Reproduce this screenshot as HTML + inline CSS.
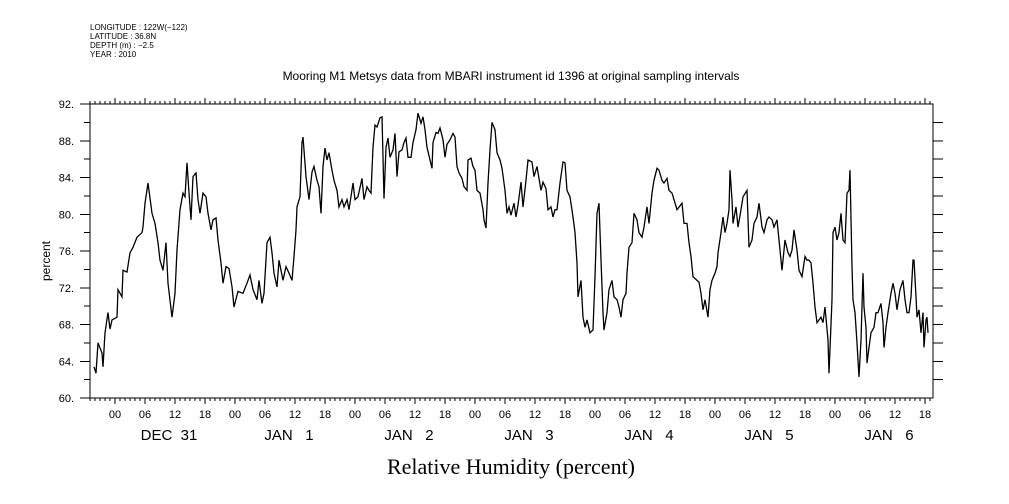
<!DOCTYPE html>
<html><head><meta charset="utf-8"><style>
html,body{margin:0;padding:0;background:#fff;}
svg{display:block;font-family:"Liberation Sans",sans-serif;}
</style></head><body>
<svg id="chart" width="1009" height="504" viewBox="0 0 1009 504" xmlns="http://www.w3.org/2000/svg">
<g font-size="8" fill="#000">
<text x="90" y="30">LONGITUDE : 122W(−122)</text>
<text x="90" y="39">LATITUDE : 36.8N</text>
<text x="90" y="48">DEPTH (m) : −2.5</text>
<text x="90" y="57">YEAR : 2010</text>
</g>
<text x="511" y="80" text-anchor="middle" font-size="12">Mooring M1 Metsys data from MBARI instrument id 1396 at original sampling intervals</text>
<text x="0" y="0" transform="translate(50,261) rotate(-90)" text-anchor="middle" font-size="12">percent</text>
<text x="511" y="474" text-anchor="middle" font-size="22" font-family="Liberation Serif, serif">Relative Humidity (percent)</text>
<g id="axes"></g>
<g id="series"></g>
</svg>
<script>
// hours since Dec 31 00:00
const hours = [-4.2,-3.8,-3.4,-2.6,-2.4,-2.0,-1.4,-1.0,-0.6,0.4,0.6,1.4,1.6,2.4,3.0,3.6,4.4,5.4,5.6,6.0,6.6,7.4,8.0,8.6,9.0,9.6,10.2,10.6,11.4,12.0,12.4,13.0,13.6,14.0,14.4,14.8,15.2,15.6,16.2,16.6,17.0,17.6,18.2,18.6,19.2,19.6,20.2,20.6,21.2,21.6,22.2,22.8,23.4,23.8,24.6,25.6,26.4,27.0,27.6,28.4,28.8,29.4,29.8,30.4,31.0,31.4,31.8,32.4,32.8,33.6,34.2,34.8,35.4,35.8,36.2,36.4,37.0,37.4,37.6,38.2,38.8,39.4,39.8,40.4,40.8,41.2,41.6,42.0,42.4,42.8,43.4,43.8,44.4,44.8,45.4,45.8,46.4,46.8,47.6,48.0,48.6,49.4,49.8,50.4,50.8,51.2,51.6,52.0,52.4,53.0,53.4,53.6,53.8,54.2,54.6,55.0,55.6,56.0,56.4,56.8,57.4,57.8,58.2,58.6,59.2,59.6,60.2,60.6,61.2,61.6,62.0,62.4,63.0,63.4,63.6,64.2,64.6,65.0,65.6,66.0,66.4,67.0,67.6,68.0,68.4,68.8,69.4,69.8,70.4,70.6,71.2,71.6,72.0,72.4,73.0,73.6,73.8,74.2,74.6,75.0,75.4,76.0,76.4,77.0,77.4,78.0,78.4,78.8,79.2,79.8,80.2,80.6,81.2,81.6,82.2,82.6,83.4,83.8,84.4,85.2,85.6,86.2,86.6,87.2,87.6,88.0,88.4,89.0,89.6,90.0,90.4,91.0,91.6,92.0,92.4,92.6,93.2,93.6,94.0,94.4,95.0,95.6,96.0,96.4,96.8,97.2,97.6,97.8,98.4,98.8,99.4,99.8,100.4,100.8,101.2,101.6,102.2,102.4,102.8,103.4,103.8,104.4,104.8,105.4,105.8,106.4,106.8,107.4,107.8,108.4,108.8,109.4,109.8,110.4,110.8,111.4,111.8,112.4,113.4,113.8,114.4,114.8,115.2,115.6,116.4,116.8,117.2,117.6,118.0,118.6,119.0,119.4,120.0,120.4,120.6,121.2,121.6,122.0,122.4,122.8,123.0,123.4,123.6,124.2,124.6,125.2,125.6,126.4,126.8,127.4,127.8,128.4,128.8,129.4,129.8,130.4,130.8,131.4,131.8,132.4,132.6,133.0,133.4,134.0,134.6,135.0,135.4,135.8,136.4,136.8,137.4,138.0,138.4,138.8,139.2,139.6,140.0,140.4,141.2,141.6,142.0,142.6,142.8,143.4,143.6,144.0,144.4,144.8,145.2,145.6,146.0,146.4,146.8,147.0,147.4,147.6,148.0,148.4,148.8,149.2,149.6,149.8,150.2,150.4,151.0,151.2,151.8,152.2,152.6,153.2,153.6,153.8,154.2,154.6,155.2,155.6,156.0,156.4,157.0,157.6,158.0,158.4,158.8,159.2,159.6,159.8,160.2,160.4,160.8,161.2,161.6,161.8,162.2,162.4,162.6];
const humidity = [63.4,62.7,66,64.9,63.4,67.1,69.3,67.5,68.5,68.8,71.8,71,73.9,73.7,75.8,76.4,77.5,78,78.6,81.2,83.4,80.1,79,76.9,75,73.9,76.9,72.5,68.8,71.4,76.1,80.5,82.3,81.9,85.6,82.3,79.4,84.1,84.5,81.6,80.1,82.3,81.9,80.1,78.3,79.4,79.6,77.2,74.7,72.5,74.3,74.1,72.1,69.9,71.6,71.4,72.5,73.4,71.8,70.7,72.8,70.3,71.4,76.9,77.5,75.8,73.6,72.1,75,72.8,74.3,73.6,72.8,75.4,78.3,80.8,81.9,87.8,88.4,84.1,81.6,84.6,85.2,83.7,83,80.1,85.2,87.2,85.9,86.7,84.8,83.7,82.6,80.8,81.6,80.8,81.6,80.5,83.4,81.6,81.9,83.9,81.6,83,82.6,82.3,87.3,89.7,89.5,90.5,90.6,86.2,81.7,87.3,88.3,86.2,87,88.8,84.1,86.8,87,87.8,88.3,86.2,86.2,87.8,89.2,91,89.9,90.6,89.2,87.3,85.9,85,87.8,88.9,88.8,89.4,88.1,86.2,87.6,88.1,88.8,88.4,85.2,84.5,83.9,83,82.6,85.9,86.1,85.2,84.8,82.6,82.3,80.5,79.4,78.5,83.4,87,90,89.2,86.7,85.9,85,82.6,80.1,80.8,79.9,81.2,79.7,81,83.5,80.8,83.7,85.9,85.7,84.1,85.2,82.6,83.5,82.8,80.5,80.8,79.7,80.5,80.5,83.4,85.7,85.6,82.6,81.9,79.7,78,74.7,71,72.8,68.8,67.7,68.5,67.1,67.4,73.2,80.1,81.2,75,69.3,67.4,69.3,71.8,72.8,71,70.7,69.9,68.8,70.7,71.4,73.6,76.4,76.9,80.1,79.4,78,77.5,78.6,80.8,79,82.3,83.7,85,84.8,83.7,83.4,83.9,82.6,82.3,81.6,80.5,81.2,79,79,76.9,75.4,73.2,72.8,72.6,71.4,69.6,70.7,68.8,71.8,72.8,73.6,74.3,75.8,78,79.7,78,79,80.5,84.8,81.6,79,80.8,78.6,80.5,81.9,82.6,76.4,77.2,79,79.7,81.2,78.6,78,79.4,79.7,79.4,78.6,79.4,78.3,76.1,73.9,77.2,75.8,75.4,76.1,78.3,76.1,73.9,73.2,75.4,75,75,74.7,72.5,69.9,68.2,68.8,68.2,69.9,66.3,62.7,70.7,78,78.6,77.2,78,80.1,77.2,76.9,82.3,82.6,84.8,74.3,70.7,69.3,66,62.3,66.3,73.6,69.9,67.7,63.8,66.3,67.1,67.7,69.3,69.3,70.3,68.2,65.5,67.7,69.3,71.4,72.5,71.4,69.6,71.8,72.8,70.7,69.3,69.3,71,75,75,71,68.8,69.6,67.1,69.3,65.5,68.5,68.8,67.1,66.3];
const hourTickLabels = ["00","06","12","18"];
const dayLabels = ["DEC  31","JAN   1","JAN   2","JAN   3","JAN   4","JAN   5","JAN   6"];
const yTickValues = [60,64,68,72,76,80,84,88,92];
const yTickLabels = ["60.","64.","68.","72.","76.","80.","84.","88.","92."];

const NS = "http://www.w3.org/2000/svg";
const L = 90, R = 933, T = 104, B = 398;
const hMin = -5, hMax = 163.6, yMin = 60, yMax = 92;
const xs = h => L + (h - hMin) / (hMax - hMin) * (R - L);
const ys = v => B - (v - yMin) / (yMax - yMin) * (B - T);
const axes = document.getElementById('axes');
const series = document.getElementById('series');

function mk(tag, attrs, parent) {
  const e = document.createElementNS(NS, tag);
  for (const k in attrs) e.setAttribute(k, attrs[k]);
  parent.appendChild(e);
  return e;
}
function line(x1, y1, x2, y2, name) {
  const e = mk('line', {x1: x1, y1: y1, x2: x2, y2: y2, stroke: '#000', 'stroke-width': 1, 'shape-rendering': 'crispEdges'}, axes);
  
  
  return e;
}
const frame = mk('rect', {x: L, y: T, width: R - L, height: B - T, fill: 'none', stroke: '#000', 'stroke-width': 1, 'shape-rendering': 'crispEdges'}, axes);



// y ticks
for (let v = yMin; v <= yMax; v += 2) {
  const y = ys(v);
  const major = (v % 4 === 0);
  line(major ? L - 10 : L - 6, y, L, y, 'y-tick');
  if (v > yMin && v < yMax) line(R, y, R + 10, y, 'y-tick-right');
}
yTickValues.forEach((v, i) => {
  const t = mk('text', {x: 74, y: ys(v) + 4, 'text-anchor': 'end', 'font-size': 11}, axes);
  t.textContent = yTickLabels[i];
  
  
});

// x ticks
for (let h = Math.ceil(hMin); h <= hMax; h++) {
  const x = xs(h);
  const six = ((h % 6) + 6) % 6 === 0;
  line(x, B, x, B + (six ? 6 : 3), 'x-tick');
  line(x, T, x, T - (six ? 6 : 3), 'x-tick-top');
  if (six) {
    const t = mk('text', {x: x, y: 418, 'text-anchor': 'middle', 'font-size': 11}, axes);
    t.textContent = hourTickLabels[((h / 6) % 4 + 4) % 4];
    
    
  }
}
dayLabels.forEach((d, i) => {
  const t = mk('text', {x: xs(i * 24 + 12) - 6, y: 440, 'text-anchor': 'middle', 'font-size': 15, style: 'white-space:pre'}, axes);
  t.textContent = d;
  
  
});

// series
const pts = hours.map((h, i) => xs(h).toFixed(1) + ',' + ys(humidity[i]).toFixed(1)).join(' ');
const pl = mk('polyline', {points: pts, fill: 'none', stroke: '#000', 'stroke-width': 1.3, 'stroke-linejoin': 'miter'}, series);


</script>
</body></html>
